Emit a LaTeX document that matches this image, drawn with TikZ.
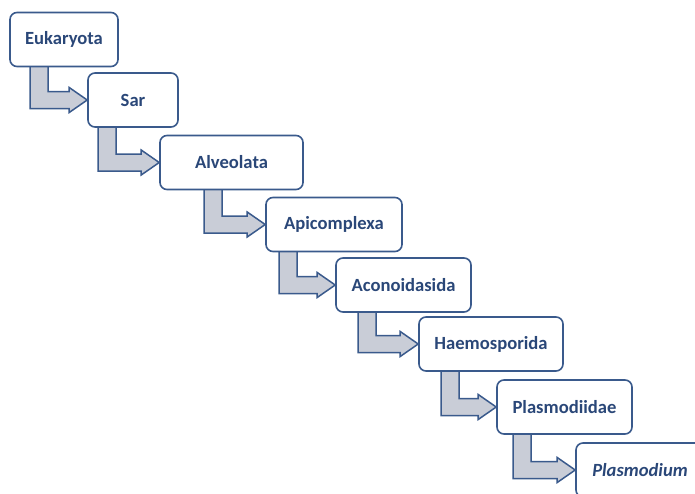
\documentclass[tikz,border=0pt]{standalone}
\usepackage{fontspec}
\setmainfont{Carlito}
\usetikzlibrary{calc,backgrounds}
\definecolor{boxline}{HTML}{3A5A8C}
\definecolor{boxtext}{HTML}{2A4778}
\definecolor{stairfill}{HTML}{C9CDD7}
\tikzset{taxon/.style={draw=boxline,line width=1.6pt,fill=white,rounded corners=7pt,
    inner sep=0pt,minimum height=54pt,text=boxtext,font=\fontsize{18.6}{20}\selectfont\bfseries},
  stair/.style={draw=boxline,line width=1.5pt,fill=stairfill,line join=miter}}
\newcommand{\steparrow}[3]{%
  \draw[stair] let \p1=(#1.south), \p2=(#2.west) in
    (#3pt,\y1+3pt) -- (#3pt,\y2-8.5pt) -- (\x2-18pt,\y2-8.5pt) -- (\x2-18pt,\y2-12.5pt)
    -- (\p2) -- (\x2-18pt,\y2+12.5pt) -- (\x2-18pt,\y2+8.5pt) -- (#3pt+18pt,\y2+8.5pt)
    -- (#3pt+18pt,\y1+3pt) -- cycle;}
\begin{document}
\begin{tikzpicture}[x=1pt,y=-1pt]
  \useasboundingbox (0,0) rectangle (695,493);

  \node[taxon,minimum width=108pt] (euk) at (64,39.5)    {Eukaryota};
  \node[taxon,minimum width=90pt]  (sar) at (133,100)    {Sar};
  \node[taxon,minimum width=143pt] (alv) at (231.5,162.5) {Alveolata};
  \node[taxon,minimum width=136pt] (api) at (334,224.5)  {Apicomplexa};
  \node[taxon,minimum width=135pt] (aco) at (403.5,285)  {Aconoidasida};
  \node[taxon,minimum width=144pt] (hae) at (491,344)    {Haemosporida};
  \node[taxon,minimum width=135pt] (pla) at (564.5,407)  {Plasmodiidae};
  \node[taxon,minimum width=128pt] (gen) at (640,470)    {\itshape Plasmodium};

  \begin{scope}[on background layer]
    \steparrow{euk}{sar}{30}
    \steparrow{sar}{alv}{98}
    \steparrow{alv}{api}{204}
    \steparrow{api}{aco}{279}
    \steparrow{aco}{hae}{358}
    \steparrow{hae}{pla}{441}
    \steparrow{pla}{gen}{513}
  \end{scope}
\end{tikzpicture}
\end{document}
